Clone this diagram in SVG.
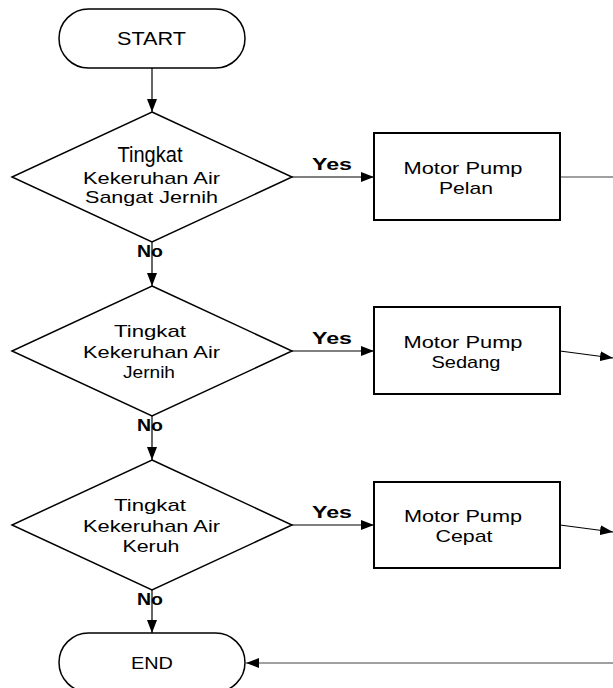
<svg xmlns="http://www.w3.org/2000/svg" width="613" height="688" viewBox="0 0 613 688">
<style>
.shape{fill:#fff;stroke:#000;stroke-width:1.5}
.box{fill:#fff;stroke:#000;stroke-width:2}
.t{font-family:"Liberation Sans",Arial,sans-serif;font-size:17px;fill:#000;text-anchor:middle}
.big{font-family:"Liberation Sans Narrow","Liberation Sans",Arial,sans-serif;font-stretch:condensed;font-size:22px;fill:#000;text-anchor:middle}
.lbl{font-family:"Liberation Sans",Arial,sans-serif;font-size:17px;font-weight:bold;fill:#000;text-anchor:middle}
.ln{fill:none;stroke:#000;stroke-width:1.2}
.gl{fill:none;stroke:#808080;stroke-width:1.6}
</style>
<defs>
<marker id="ah" viewBox="0 0 13 10" refX="13" refY="5" markerWidth="13" markerHeight="10" markerUnits="userSpaceOnUse" orient="auto">
<path d="M0,0 L13,5 L0,10 Z" fill="#000"/>
</marker>
</defs>
<g id="connectors">
<line class="ln" x1="152" y1="68" x2="152" y2="112" marker-end="url(#ah)"/>
<line class="ln" x1="152" y1="242" x2="152" y2="286" marker-end="url(#ah)"/>
<line class="ln" x1="152" y1="416" x2="152" y2="460" marker-end="url(#ah)"/>
<line class="ln" x1="152" y1="590" x2="152" y2="633" marker-end="url(#ah)"/>
<line class="ln" x1="292" y1="177" x2="374" y2="177" marker-end="url(#ah)"/>
<line class="ln" x1="292" y1="351" x2="374" y2="351" marker-end="url(#ah)"/>
<line class="ln" x1="292" y1="525" x2="374" y2="525" marker-end="url(#ah)"/>
<line class="gl" x1="560" y1="177" x2="613" y2="177"/>
<line class="ln" x1="560" y1="351" x2="613" y2="358" marker-end="url(#ah)"/>
<line class="ln" x1="560" y1="525" x2="613" y2="532" marker-end="url(#ah)"/>
<line class="gl" x1="613" y1="663" x2="246" y2="663" marker-end="url(#ah)"/>
<text class="lbl" x="332" y="170" textLength="40" lengthAdjust="spacingAndGlyphs">Yes</text>
<text class="lbl" x="332" y="344" textLength="40" lengthAdjust="spacingAndGlyphs">Yes</text>
<text class="lbl" x="332" y="518" textLength="40" lengthAdjust="spacingAndGlyphs">Yes</text>
<text class="lbl" x="150" y="257" textLength="26" lengthAdjust="spacingAndGlyphs">No</text>
<text class="lbl" x="150" y="431" textLength="26" lengthAdjust="spacingAndGlyphs">No</text>
<text class="lbl" x="150" y="605" textLength="26" lengthAdjust="spacingAndGlyphs">No</text>
</g>
<g id="start">
<rect class="shape" x="59" y="9" width="186" height="59" rx="29.5" ry="29.5"/>
<text class="t" x="151.5" y="45" style="font-size:18px" textLength="69" lengthAdjust="spacingAndGlyphs">START</text>
</g>
<g id="d1">
<polygon class="shape" points="152,112 292,177 152,242 12,177"/>
<text class="big" x="150" y="162" textLength="65" lengthAdjust="spacingAndGlyphs">Tingkat</text>
<text class="t" x="151.5" y="184" textLength="137" lengthAdjust="spacingAndGlyphs">Kekeruhan Air</text>
<text class="t" x="151.5" y="203" textLength="133" lengthAdjust="spacingAndGlyphs">Sangat Jernih</text>
</g>
<g id="b1">
<rect class="box" x="374" y="133" width="186" height="87"/>
<text class="t" x="463" y="174" textLength="119" lengthAdjust="spacingAndGlyphs">Motor Pump</text>
<text class="t" x="466" y="194" textLength="54" lengthAdjust="spacingAndGlyphs">Pelan</text>
</g>
<g id="d2">
<polygon class="shape" points="152,286 292,351 152,416 12,351"/>
<text class="t" x="150" y="337" textLength="72" lengthAdjust="spacingAndGlyphs">Tingkat</text>
<text class="t" x="151.5" y="358" textLength="137" lengthAdjust="spacingAndGlyphs">Kekeruhan Air</text>
<text class="t" x="149" y="378" textLength="52" lengthAdjust="spacingAndGlyphs">Jernih</text>
</g>
<g id="b2">
<rect class="box" x="374" y="307" width="186" height="87"/>
<text class="t" x="463" y="348" textLength="119" lengthAdjust="spacingAndGlyphs">Motor Pump</text>
<text class="t" x="466" y="368" textLength="69" lengthAdjust="spacingAndGlyphs">Sedang</text>
</g>
<g id="d3">
<polygon class="shape" points="152,460 292,525 152,590 12,525"/>
<text class="t" x="150" y="511" textLength="72" lengthAdjust="spacingAndGlyphs">Tingkat</text>
<text class="t" x="151.5" y="532" textLength="137" lengthAdjust="spacingAndGlyphs">Kekeruhan Air</text>
<text class="t" x="151" y="552" textLength="57" lengthAdjust="spacingAndGlyphs">Keruh</text>
</g>
<g id="b3">
<rect class="box" x="374" y="482" width="186" height="86"/>
<text class="t" x="463" y="522" textLength="118" lengthAdjust="spacingAndGlyphs">Motor Pump</text>
<text class="t" x="464" y="542" textLength="57" lengthAdjust="spacingAndGlyphs">Cepat</text>
</g>
<g id="end">
<rect class="shape" x="59" y="633" width="186" height="59" rx="29.5" ry="29.5"/>
<text class="t" x="152" y="669" textLength="42" lengthAdjust="spacingAndGlyphs">END</text>
</g>
</svg>
